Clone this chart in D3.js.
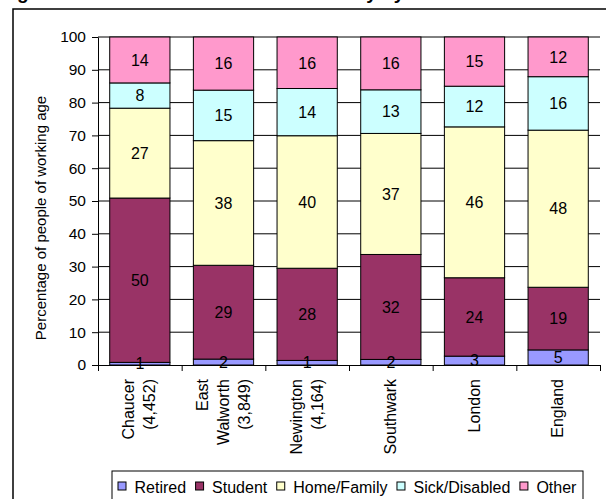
<!DOCTYPE html>
<html>
<head>
<meta charset="utf-8">
<script src="https://cdn.jsdelivr.net/npm/d3@7/dist/d3.min.js"></script>
<style>
  html, body { margin: 0; padding: 0; background: #fff; }
  svg { display: block; }
  text { font-family: "Liberation Sans", Arial, sans-serif; fill: #000; }
</style>
</head>
<body>
<script>
// ---- Data ----
const categories = [["Chaucer", "(4,452)"], ["East", "Walworth", "(3,849)"], ["Newington", "(4,164)"], ["Southwark"], ["London"], ["England"]];
const seriesNames = ["Retired", "Student", "Home/Family", "Sick/Disabled", "Other"];
const retired = [0.8, 1.8, 1.4, 1.7, 2.7, 4.6];
const student = [50.1, 28.6, 28.1, 32.0, 23.9, 19.1];
const homeFamily = [27.4, 38.0, 40.4, 36.9, 46.0, 47.9];
const sickDisabled = [7.7, 15.4, 14.4, 13.3, 12.4, 16.3];
const other = [14.0, 16.2, 15.7, 16.1, 15.0, 12.1];
const yTicks = [0, 10, 20, 30, 40, 50, 60, 70, 80, 90, 100];
const colors = ["#9999FF", "#993366", "#FFFFCC", "#CCFFFF", "#FF99CC"];
const titleText = "Figure 4: Reasons for economic inactivity by ward";
const yTitle = "Percentage of people of working age";

const seriesValues = [retired, student, homeFamily, sickDisabled, other];

const W = 606, H = 499;
const svg = d3.select("body").append("svg").attr("width", W).attr("height", H);

// Title (cut off at the top, as in the reference)
svg.append("text").attr("x", 0).attr("y", -1)
  .attr("font-size", 19).attr("font-weight", "bold").text(titleText);

// outer frame
svg.append("rect").attr("x", 13).attr("y", 9).attr("width", 700).attr("height", 600)
  .attr("fill", "none").attr("stroke", "#000").attr("stroke-width", 1.5);

const plot = { left: 98, right: 600, top: 37, bottom: 365 };

const x = d3.scaleBand().domain(d3.range(categories.length))
  .range([plot.left, plot.right]).paddingInner(0.28).paddingOuter(0.14);
const y = d3.scaleLinear().domain([0, 100]).range([plot.bottom, plot.top]);

// gridlines
svg.append("g").selectAll("line").data(yTicks.filter(d => d > 0)).join("line")
  .attr("x1", plot.left).attr("x2", plot.right)
  .attr("y1", d => y(d)).attr("y2", d => y(d))
  .attr("stroke", "#000").attr("stroke-width", 1);

// stacked data
const rows = categories.map((c, i) => {
  const o = { i };
  seriesNames.forEach((s, k) => o[s] = seriesValues[k][i]);
  return o;
});
const stack = d3.stack().keys(seriesNames)(rows);

const layers = svg.append("g").selectAll("g").data(stack).join("g")
  .attr("fill", (d, k) => colors[k]);
layers.selectAll("rect").data(d => d).join("rect")
  .attr("x", d => x(d.data.i))
  .attr("width", x.bandwidth())
  .attr("y", d => y(d[1]))
  .attr("height", d => y(d[0]) - y(d[1]))
  .attr("stroke", "#000").attr("stroke-width", 1);

// axes
const yAxis = svg.append("g").attr("transform", `translate(${plot.left},0)`)
  .call(d3.axisLeft(y).tickValues(yTicks).tickSize(6).tickPadding(6).tickSizeOuter(0));
yAxis.select(".domain").attr("stroke", "#000");
yAxis.selectAll("text").attr("font-size", 15.5).attr("font-family", "Liberation Sans, Arial, sans-serif");

const xb = d3.scaleLinear().domain([0, categories.length]).range([plot.left, plot.right]);
const xAxis = svg.append("g").attr("transform", `translate(0,${plot.bottom})`)
  .call(d3.axisBottom(xb).tickValues(d3.range(categories.length + 1)).tickSize(6).tickFormat("").tickSizeOuter(0));
xAxis.select(".domain").attr("stroke", "#000");

// data labels
const fmt = d3.format(".0f");
svg.append("g").selectAll("g").data(stack).join("g")
  .selectAll("text").data(d => d).join("text")
  .attr("x", d => x(d.data.i) + x.bandwidth() / 2)
  .attr("y", d => (y(d[0]) + y(d[1])) / 2)
  .attr("dy", "0.36em")
  .attr("text-anchor", "middle").attr("font-size", 16)
  .text(d => fmt(d[1] - d[0]));

// category labels (rotated)
const lineGap = 21;
const cl = svg.append("g").selectAll("text").data(categories).join("text")
  .attr("transform", (d, i) => `translate(${x(i) + x.bandwidth() / 2},379) rotate(-90)`)
  .attr("text-anchor", "end").attr("font-size", 16);
cl.selectAll("tspan").data(d => d.map((t, j) => ({ t, j, n: d.length }))).join("tspan")
  .attr("x", 0)
  .attr("y", d => (d.j - (d.n - 1) / 2) * lineGap + 5)
  .text(d => d.t);

// y title
svg.append("text")
  .attr("transform", `translate(46,218) rotate(-90)`)
  .attr("text-anchor", "middle").attr("font-size", 15).text(yTitle);

// legend
const lg = svg.append("g");
lg.append("rect").attr("x", 112).attr("y", 471).attr("width", 471).attr("height", 40)
  .attr("fill", "#fff").attr("stroke", "#000").attr("stroke-width", 1);
let lx = 118;
seriesNames.forEach((s, k) => {
  lg.append("rect").attr("x", lx).attr("y", 482).attr("width", 8).attr("height", 8)
    .attr("fill", colors[k]).attr("stroke", "#000").attr("stroke-width", 1);
  const t = lg.append("text").attr("x", lx + 16.5).attr("y", 493).attr("font-size", 16).text(s);
  lx += 16.5 + t.node().getComputedTextLength() + 9.5;
});
</script>
</body>
</html>
